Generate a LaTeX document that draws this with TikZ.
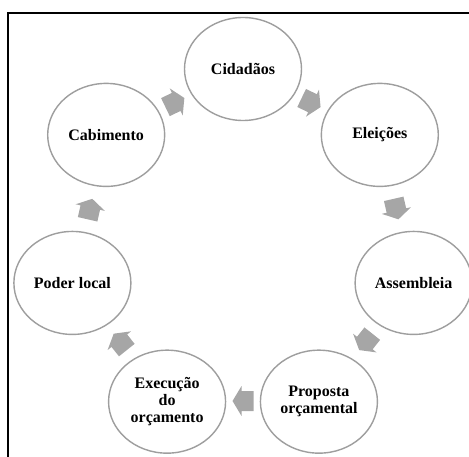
\documentclass[tikz,border=0pt]{standalone}
\usepackage{fontspec}
\setmainfont{Liberation Serif}
\usetikzlibrary{shapes.geometric,calc}
\begin{document}
\begin{tikzpicture}[x=1pt,y=1pt,
  stage/.style={ellipse, draw=black!38, line width=1.4pt, fill=white,
    minimum width=117pt, minimum height=103pt, inner sep=0pt,
    font=\fontsize{16}{17}\selectfont\bfseries, align=center},
  flow/.style={fill=black!35, draw=none}]
\useasboundingbox (0,0) rectangle (469,456);
\draw[line width=2pt] (8.3,-10) -- (8.3,443) -- (480,443);
\coordinate (hub) at (243,212);
\node[stage] (c1) at ($(hub)+(90:175)$) {Cidadãos};
\node[stage] (c2) at ($(hub)+(38.571:175)$) {Eleições};
\node[stage] (c3) at ($(hub)+(-12.857:175)$) {Assembleia};
\node[stage] (c4) at ($(hub)+(-64.286:175)$) {Proposta\\orçamental};
\node[stage] (c5) at ($(hub)+(-115.714:175)$) {Execução\\do\\orçamento};
\node[stage] (c6) at ($(hub)+(-167.143:175)$) {Poder local};
\node[stage] (c7) at ($(hub)+(141.429:175)$) {Cabimento};
\foreach \i/\a in {1/64.286,2/12.857,3/-38.571,4/-90,5/-141.429,6/-192.857,7/-244.286}{
  \coordinate (a\i) at ($(hub)+(\a:157)$);
  \fill[flow, shift={(a\i)}, rotate=\a-90]
    (-10.5,-10) -- (1.5,-10) -- (1.5,-15) -- (10.5,0) -- (1.5,15) -- (1.5,10) -- (-10.5,10) -- cycle;
}
\end{tikzpicture}
\end{document}
